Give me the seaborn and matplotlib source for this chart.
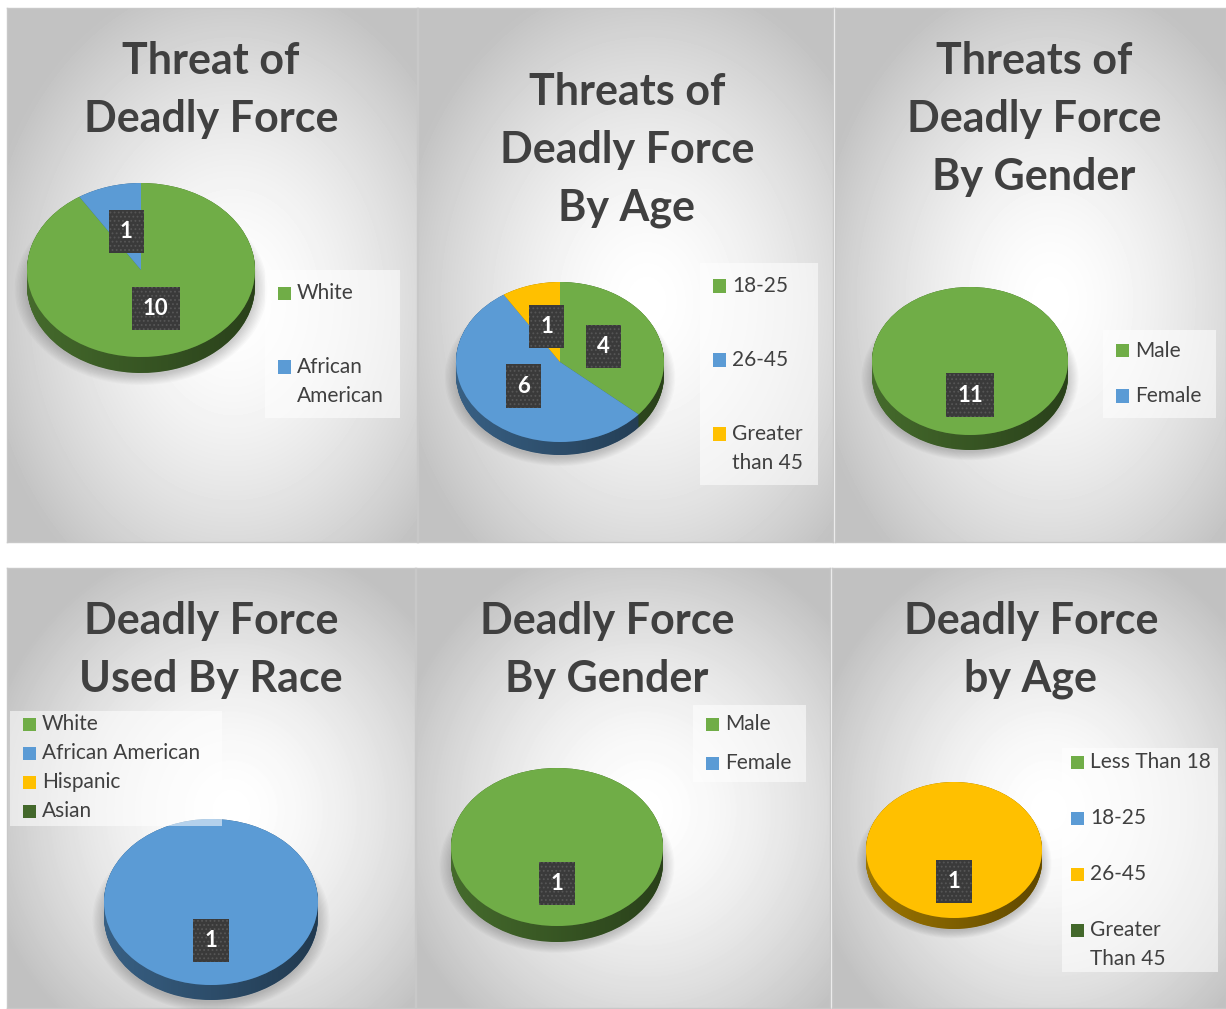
import numpy as np
import matplotlib
matplotlib.use("Agg")
import matplotlib.pyplot as plt
from matplotlib.patches import Polygon, Rectangle
import seaborn as sns

# data for the six pies
threat_race_labels = ["White", "African American"]
threat_race_values = [10, 1]

threat_age_labels = ["18-25", "26-45", "Greater than 45"]
threat_age_values = [4, 6, 1]

threat_gender_labels = ["Male", "Female"]
threat_gender_values = [11, 0]

force_race_labels = ["White", "African American", "Hispanic", "Asian"]
force_race_values = [0, 1, 0, 0]

force_gender_labels = ["Male", "Female"]
force_gender_values = [1, 0]

force_age_labels = ["Less Than 18", "18-25", "26-45", "Greater Than 45"]
force_age_values = [0, 0, 1, 0]

titles = ["Threat of\nDeadly Force",
          "Threats of\nDeadly Force\nBy Age",
          "Threats of\nDeadly Force\nBy Gender",
          "Deadly Force\nUsed By Race",
          "Deadly Force\nBy Gender",
          "Deadly Force\nby Age"]

sns.set_theme(style="white")
plt.rcParams["font.family"] = ["Lato", "DejaVu Sans"]
plt.rcParams["hatch.linewidth"] = 0.8

palette = ["#70AD47", "#5B9BD5", "#FFC000", "#43682B"]
text_grey = "#404040"

W, H = 1226, 1009
fig = plt.figure(figsize=(W / 100, H / 100), dpi=100)
fig.patch.set_facecolor("white")
renderer = fig.canvas.get_renderer()


def px_axes(x0, y0, x1, y1):
    return fig.add_axes([x0 / W, 1 - y1 / H, (x1 - x0) / W, (y1 - y0) / H])


def fx(x):
    return x / W


def fy(y):
    return 1 - y / H


def text_width(s, size):
    t = fig.text(0, 0, s, fontsize=size)
    wpx = t.get_window_extent(renderer).width
    t.remove()
    return wpx


def wrap_label(label, max_px, size=15):
    # too wide for the legend box -> break after the first word
    words = label.split()
    if len(words) > 1 and text_width(label, size) > max_px:
        return [words[0], " ".join(words[1:])]
    return [label]


# panel layout: box, title centre, pie geometry (cx, cy, rx, ry, depth), legend layout
panels = [
    dict(box=(7, 8, 417, 542), tx=211, ty=61,
         pie=(141, 270, 114, 87, 16),
         leg=dict(box=(265, 270, 400, 418), mx=278, y0=293, step=74, maxw=95),
         labels=threat_race_labels, values=threat_race_values),
    dict(box=(418, 8, 833, 542), tx=627, ty=92,
         pie=(560, 362, 104, 80, 13),
         leg=dict(box=(700, 263, 818, 485), mx=713, y0=286, step=74, maxw=80),
         labels=threat_age_labels, values=threat_age_values),
    dict(box=(835, 8, 1226, 542), tx=1034, ty=61,
         pie=(970, 361, 98, 74, 15),
         leg=dict(box=(1103, 330, 1216, 418), mx=1116, y0=351, step=45, maxw=200),
         labels=threat_gender_labels, values=threat_gender_values),
    dict(box=(7, 568, 415, 1008), tx=211, ty=621,
         pie=(211, 902, 107, 83, 15),
         leg=dict(box=(10, 711, 222, 826), mx=23, y0=724, step=29, maxw=300),
         labels=force_race_labels, values=force_race_values),
    dict(box=(416, 568, 830, 1008), tx=607, ty=621,
         pie=(557, 847, 106, 79, 16),
         leg=dict(box=(693, 705, 806, 782), mx=706, y0=724, step=39, maxw=200),
         labels=force_gender_labels, values=force_gender_values),
    dict(box=(832, 568, 1226, 1008), tx=1031, ty=621,
         pie=(954, 850, 88, 68, 11),
         leg=dict(box=(1062, 748, 1218, 972), mx=1071, y0=762, step=56, maxw=130),
         labels=force_age_labels, values=force_age_values),
]


def darker(c, f):
    r, g, b = matplotlib.colors.to_rgb(c)
    return (r * f, g * f, b * f)


for i, p in enumerate(panels):
    x0, y0, x1, y1 = p["box"]

    # radial gradient background
    bg = px_axes(x0, y0, x1, y1)
    w, h = x1 - x0, y1 - y0
    yy, xx = np.mgrid[0:h, 0:w]
    r = np.sqrt(((xx - 0.55 * w) / (0.62 * w)) ** 2 + ((yy - 0.55 * h) / (0.62 * h)) ** 2)
    shade = 1 - 0.24 * np.clip(r, 0, 1) ** 1.6
    bg.imshow(shade, cmap="gray", vmin=0, vmax=1, aspect="auto", interpolation="bilinear")
    bg.set_xticks([])
    bg.set_yticks([])
    for s in bg.spines.values():
        s.set_color("#c8c8c8")
        s.set_linewidth(1)

    # title
    for k, line in enumerate(titles[i].split("\n")):
        fig.text(fx(p["tx"]), fy(p["ty"] + k * 58), line, ha="center", va="center",
                 fontsize=31, fontweight="bold", color=text_grey)

    # pie with fake depth
    cx, cy, rx, ry, depth = p["pie"]
    m = 14
    ax = px_axes(cx - rx - m, cy - ry - m, cx + rx + m, cy + ry + depth + m)
    d = depth / ry
    colors = palette[:len(p["values"])]
    side_colors = [darker(c, 0.62) for c in colors]

    # soft shadow
    t = np.linspace(0, 2 * np.pi, 200)
    for k in range(10):
        sc = 1.0 + 0.012 * k
        ax.fill(sc * np.cos(t), sc * np.sin(t) - d - 0.03, color="black", alpha=0.018,
                lw=0, zorder=0)

    for off in np.linspace(d, 0, 30):
        ax.pie(p["values"], colors=side_colors, startangle=90, counterclock=False,
               center=(0, -off), radius=1, wedgeprops=dict(linewidth=0))

    # side shading
    t = np.linspace(np.pi, 2 * np.pi, 200)
    sx = np.concatenate([np.cos(t), np.cos(t[::-1])])
    sy = np.concatenate([np.sin(t), np.sin(t[::-1]) - d])
    side = Polygon(np.column_stack([sx, sy]), closed=True, facecolor="none",
                   edgecolor="none", transform=ax.transData)
    ax.add_patch(side)
    grad = np.zeros((2, 200, 4))
    grad[..., 3] = np.linspace(0.0, 0.4, 200)[None, :]
    im = ax.imshow(grad, extent=(-1, 1, -1 - d, 0), aspect="auto", zorder=2)
    im.set_clip_path(side)

    wedges, _ = ax.pie(p["values"], colors=colors, startangle=90, counterclock=False,
                       radius=1, wedgeprops=dict(linewidth=0, zorder=3))

    for wdg, v in zip(wedges, p["values"]):
        if v == 0:
            continue
        mid = np.deg2rad((wdg.theta1 + wdg.theta2) / 2)
        ax.text(0.46 * np.cos(mid), 0.46 * np.sin(mid), str(v), ha="center", va="center",
                fontsize=16, fontweight="bold", color="white", zorder=6,
                bbox=dict(boxstyle="square,pad=0.5", facecolor="#3a3a3a",
                          edgecolor="#565656", linewidth=0, hatch="...."))

    ax.set_aspect("auto")
    ax.set_xlim(-1 - m / rx, 1 + m / rx)
    ax.set_ylim(-1 - d - m / ry, 1 + m / ry)
    ax.axis("off")

    # legend
    lg = p["leg"]
    lx0, ly0, lx1, ly1 = lg["box"]
    fig.patches.append(Rectangle((fx(lx0), fy(ly1)), (lx1 - lx0) / W, (ly1 - ly0) / H,
                                 transform=fig.transFigure, facecolor="white",
                                 alpha=0.55, edgecolor="none", zorder=4))
    for k, (lab, c) in enumerate(zip(p["labels"], colors)):
        yk = lg["y0"] + k * lg["step"]
        fig.patches.append(Rectangle((fx(lg["mx"]), fy(yk + 6.5)), 13 / W, 13 / H,
                                     transform=fig.transFigure, facecolor=c,
                                     edgecolor="none", zorder=5))
        for j, line in enumerate(wrap_label(lab, lg["maxw"])):
            fig.text(fx(lg["mx"] + 19), fy(yk + j * 29), line, ha="left", va="center",
                     fontsize=15, color=text_grey, zorder=6)

fig.savefig("out.png", dpi=100)
